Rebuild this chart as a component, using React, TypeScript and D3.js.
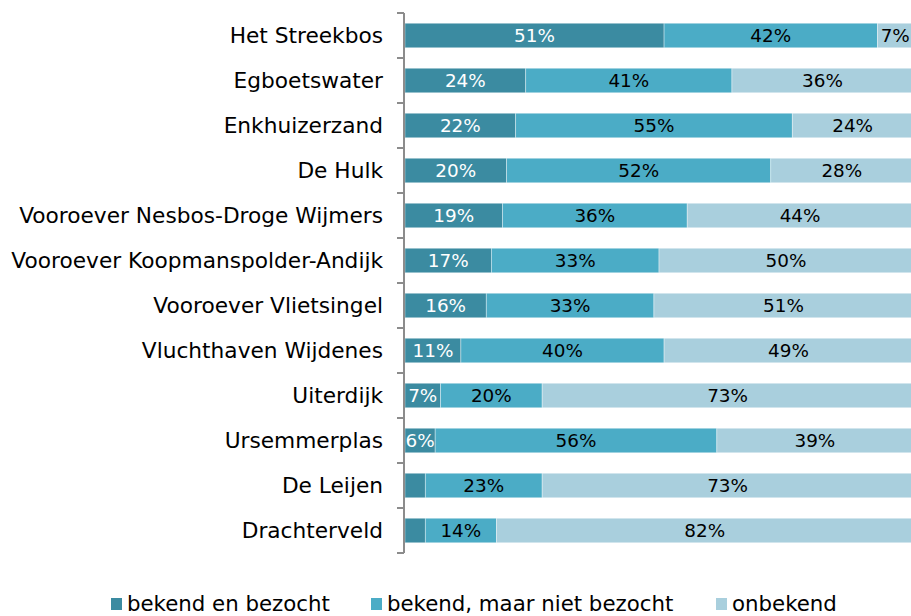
import React, { useEffect, useRef } from 'react';
import * as d3 from 'd3';

const categories = [
  'Het Streekbos',
  'Egboetswater',
  'Enkhuizerzand',
  'De Hulk',
  'Vooroever Nesbos-Droge Wijmers',
  'Vooroever Koopmanspolder-Andijk',
  'Vooroever Vlietsingel',
  'Vluchthaven Wijdenes',
  'Uiterdijk',
  'Ursemmerplas',
  'De Leijen',
  'Drachterveld'
];

const seriesNames = ['bekend en bezocht', 'bekend, maar niet bezocht', 'onbekend'];

const bezocht = [51, 24, 22, 20, 19, 17, 16, 11, 7, 6, 4, 4];
const nietBezocht = [42, 41, 55, 52, 36, 33, 33, 40, 20, 56, 23, 14];
const onbekend = [7, 36, 24, 28, 44, 50, 51, 49, 73, 39, 73, 82];

const colors = ['#3B8BA1', '#4BACC6', '#A9CFDD'];
const labelColors = ['#ffffff', '#000000', '#000000'];
const FONT = 'Verdana, "DejaVu Sans", sans-serif';

export default function App() {
  const ref = useRef<SVGSVGElement | null>(null);

  useEffect(() => {
    const svg = d3.select(ref.current);
    svg.selectAll('*').remove();

    const rows = categories.map((c, i) => ({
      name: c,
      bezocht: bezocht[i],
      nietBezocht: nietBezocht[i],
      onbekend: onbekend[i]
    }));
    const keys = ['bezocht', 'nietBezocht', 'onbekend'];
    // rounded percentages don't always add to 100, so each row is expanded to full width
    const stacked = d3.stack<any>().keys(keys).offset(d3.stackOffsetExpand)(rows);

    const x = d3.scaleLinear().domain([0, 1]).range([405, 913]);
    const y = d3.scaleBand().domain(categories).range([13, 553]).paddingInner(0.455).paddingOuter(0.2275);

    const layer = svg.selectAll('.layer')
      .data(stacked)
      .enter()
      .append('g')
      .attr('class', 'layer')
      .attr('fill', (d, i) => colors[i]);

    layer.selectAll('rect')
      .data((d) => d)
      .enter()
      .append('rect')
      .attr('x', (d) => x(d[0]))
      .attr('y', (d: any) => y(d.data.name)!)
      .attr('width', (d) => x(d[1]) - x(d[0]))
      .attr('height', y.bandwidth())
      .attr('stroke', '#ffffff')
      .attr('stroke-opacity', 0.5)
      .attr('stroke-width', 0.75);

    // data labels (hidden when the segment is too narrow)
    stacked.forEach((s, si) => {
      svg.append('g')
        .selectAll('text')
        .data(s.filter((d: any) => d.data[s.key] >= 5))
        .enter()
        .append('text')
        .attr('x', (d) => (x(d[0]) + x(d[1])) / 2)
        .attr('y', (d: any) => y(d.data.name)! + y.bandwidth() / 2)
        .attr('dy', '0.33em')
        .attr('text-anchor', 'middle')
        .attr('font-family', FONT)
        .attr('font-size', 18.4)
        .attr('fill', labelColors[si])
        .text((d: any) => d.data[s.key] + '%');
    });

    // category axis
    const axis = svg.append('g').attr('transform', 'translate(404,0)');
    axis.append('line')
      .attr('x1', 0).attr('x2', 0)
      .attr('y1', 13).attr('y2', 553)
      .attr('stroke', '#8c8c8c').attr('stroke-width', 2);
    const tickYs = d3.range(categories.length + 1).map((i) => 13 + i * y.step());
    axis.selectAll('.tick')
      .data(tickYs)
      .enter()
      .append('line')
      .attr('x1', -7).attr('x2', 0)
      .attr('y1', (d) => d).attr('y2', (d) => d)
      .attr('stroke', '#8c8c8c').attr('stroke-width', 2);

    svg.append('g')
      .selectAll('text')
      .data(categories)
      .enter()
      .append('text')
      .attr('x', 383)
      .attr('y', (d) => y(d)! + y.bandwidth() / 2)
      .attr('dy', '0.35em')
      .attr('text-anchor', 'end')
      .attr('font-family', FONT)
      .attr('font-size', 21.7)
      .attr('fill', '#000')
      .text((d) => d);

    // legend
    const legendX = [111, 371, 716];
    const legend = svg.append('g')
      .selectAll('g')
      .data(seriesNames)
      .enter()
      .append('g')
      .attr('transform', (d, i) => `translate(${legendX[i]},611)`);
    legend.append('rect')
      .attr('x', 0).attr('y', -13)
      .attr('width', 11).attr('height', 12)
      .attr('fill', (d, i) => colors[i]);
    legend.append('text')
      .attr('x', 16)
      .attr('y', 0)
      .attr('font-family', FONT)
      .attr('font-size', 21.3)
      .attr('fill', '#000')
      .text((d) => d);
  }, []);

  return (
    <svg ref={ref} width={911} height={616} style={{ position: 'absolute', left: 0, top: 0, background: '#fff' }} />
  );
}
